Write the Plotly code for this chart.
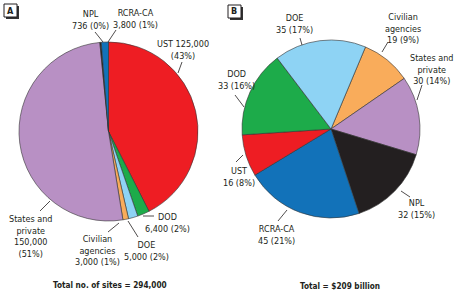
import plotly.graph_objects as go

W, H = 456, 296

# Panel A: number of sites
a_labels = ["UST", "DOD", "DOE", "Civilian agencies", "States and private", "NPL", "RCRA-CA"]
a_values = [125000, 6400, 5000, 3000, 150000, 736, 3800]
a_text = ["UST 125,000<br>(43%)", "DOD<br>6,400 (2%)", "DOE<br>5,000 (2%)",
          "Civilian<br>agencies<br>3,000 (1%)", "States and<br>private<br>150,000<br>(51%)",
          "NPL<br>736 (0%)", "RCRA-CA<br>3,800 (1%)"]

# Panel B: cost (billion $)
b_labels = ["Civilian agencies", "States and private", "NPL", "RCRA-CA", "UST", "DOD", "DOE"]
b_values = [19, 30, 32, 45, 16, 33, 35]
b_text = ["Civilian<br>agencies<br>19 (9%)", "States and<br>private<br>30 (14%)", "NPL<br>32 (15%)",
          "RCRA-CA<br>45 (21%)", "UST<br>16 (8%)", "DOD<br>33 (16%)", "DOE<br>35 (17%)"]

colors = {"UST": "#EE1D23", "DOD": "#1DAB4A", "DOE": "#8ED3F4", "Civilian agencies": "#F9AC5B",
          "States and private": "#B890C4", "NPL": "#231F20", "RCRA-CA": "#1272B9"}

def px(x):
    return x / W

def py(y):
    return 1 - y / H

FONT = "DejaVu Sans Condensed, Liberation Sans Narrow, sans-serif"
FS = 9

fig = go.Figure()
fig.add_trace(go.Pie(
    labels=a_labels, values=a_values, sort=False, direction="clockwise", rotation=0,
    marker=dict(colors=[colors[l] for l in a_labels], line=dict(color="#333333", width=0.6)),
    textinfo="none", hoverinfo="label+value+percent", showlegend=False,
    domain=dict(x=[px(19), px(198)], y=[py(221), py(42)]),
))
fig.add_trace(go.Pie(
    labels=b_labels, values=b_values, sort=False, direction="clockwise", rotation=22.8,
    marker=dict(colors=[colors[l] for l in b_labels], line=dict(color="#333333", width=0.6)),
    textinfo="none", hoverinfo="label+value+percent", showlegend=False,
    domain=dict(x=[px(242), px(420)], y=[py(218), py(40)]),
))

# label positions (block centers) and leader lines, in pixels
a_pos = [(183, 50), (167, 222.5), (146, 251), (97, 250), (30, 236), (90, 20), (135, 18.5)]
a_lines = [(182, 62, 178, 73), (143, 216, 154, 216), (128, 221, 138, 237), (108, 232, 119, 223),
           (40, 211, 50, 201), (95, 32, 103, 42), (116, 30, 108, 42)]
b_pos = [(403, 28.5), (431, 69.5), (416, 209), (276, 235), (239, 176.5), (236, 79.5), (294, 23.5)]
b_lines = [(388, 42, 382, 52), (422, 85, 417, 100), (401, 191, 410, 197), (278, 221, 287, 210),
           (236, 162, 243, 155), (235, 95, 244, 107), (300, 38, 302, 45)]

anns = []
shapes = []
for texts, pos, lines in ((a_text, a_pos, a_lines), (b_text, b_pos, b_lines)):
    for t, (x, y), (x0, y0, x1, y1) in zip(texts, pos, lines):
        anns.append(dict(text=t, x=px(x), y=py(y), xref="paper", yref="paper", showarrow=False,
                         xanchor="center", yanchor="middle", align="center",
                         font=dict(family=FONT, size=FS, color="#231F20")))
        shapes.append(dict(type="line", xref="paper", yref="paper", x0=px(x0), y0=py(y0),
                           x1=px(x1), y1=py(y1), line=dict(color="#231F20", width=0.8)))

anns.append(dict(text="<b>Total no. of sites = 294,000</b>", x=px(110), y=py(285), xref="paper",
                 yref="paper", showarrow=False, xanchor="center", yanchor="middle",
                 font=dict(family=FONT, size=8.2, color="#231F20")))
anns.append(dict(text="<b>Total = $209 billion</b>", x=px(340), y=py(286), xref="paper",
                 yref="paper", showarrow=False, xanchor="center", yanchor="middle",
                 font=dict(family=FONT, size=8.2, color="#231F20")))

# panel letter boxes
for letter, bx, by in (("A", 4, 4), ("B", 228, 5)):
    shapes.append(dict(type="rect", xref="paper", yref="paper", x0=px(bx + 2), y0=py(by + 15),
                       x1=px(bx + 15), y1=py(by + 2), fillcolor="#333333", line=dict(width=0)))
    shapes.append(dict(type="rect", xref="paper", yref="paper", x0=px(bx), y0=py(by + 13),
                       x1=px(bx + 13), y1=py(by), fillcolor="white", line=dict(color="#231F20", width=1)))
    anns.append(dict(text="<b>%s</b>" % letter, x=px(bx + 6.5), y=py(by + 6.5), xref="paper",
                     yref="paper", showarrow=False, xanchor="center", yanchor="middle",
                     font=dict(family=FONT, size=FS, color="#231F20")))

fig.update_layout(width=W, height=H, margin=dict(l=0, r=0, t=0, b=0),
                  paper_bgcolor="white", plot_bgcolor="white",
                  annotations=anns, shapes=shapes)
fig.write_html("out.html", config={"displayModeBar": False},
               post_script="document.body.style.margin='0px';")
